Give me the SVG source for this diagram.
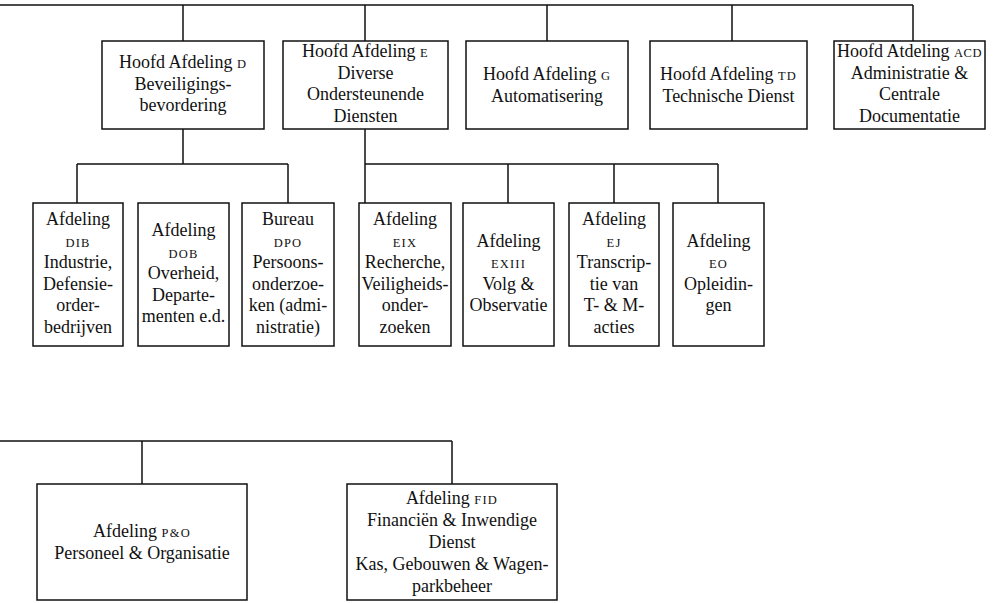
<svg xmlns="http://www.w3.org/2000/svg" width="1006" height="603" viewBox="0 0 1006 603">
<style>
.box{fill:#fff;stroke:#111;stroke-width:1.5}
.ln{fill:none;stroke:#111;stroke-width:1.5}
text{font-family:"Liberation Serif","Times New Roman",serif;font-size:18px;fill:#111;text-anchor:middle}
.sc{font-size:12.5px;letter-spacing:1.2px}
</style>
<rect width="1006" height="603" fill="#fff"/>
<g id="connectors">
<path class="ln" d="M0 5H913M183 5V41M365 5V41M547 5V41M732 5V41M913 5V41"/>
<path class="ln" d="M183 129V164M77 164H288M77 164V203M288 164V203"/>
<path class="ln" d="M365 129V203M365 164H718M508 164V203M614 164V203M718 164V203"/>
<path class="ln" d="M0 441H452M142 441V484M452 441V484"/>
</g>
<g id="hoofd-d">
<rect class="box" x="102" y="41" width="162" height="88"/>
<text x="183" y="68">Hoofd Afdeling <tspan class="sc">D</tspan></text>
<text x="183" y="90">Beveiligings-</text>
<text x="183" y="111">bevordering</text>
</g>
<g id="hoofd-e">
<rect class="box" x="283" y="41" width="165" height="88"/>
<text x="365.5" y="57">Hoofd Afdeling <tspan class="sc">E</tspan></text>
<text x="365.5" y="78.5">Diverse</text>
<text x="365.5" y="100">Ondersteunende</text>
<text x="365.5" y="121.5">Diensten</text>
</g>
<g id="hoofd-g">
<rect class="box" x="466" y="41" width="162" height="88"/>
<text x="547" y="80">Hoofd Afdeling <tspan class="sc">G</tspan></text>
<text x="547" y="101.5">Automatisering</text>
</g>
<g id="hoofd-td">
<rect class="box" x="650" y="41" width="157" height="88"/>
<text x="728.5" y="80">Hoofd Afdeling <tspan class="sc">TD</tspan></text>
<text x="728.5" y="101.5">Technische Dienst</text>
</g>
<g id="hoofd-acd">
<rect class="box" x="834" y="41" width="151" height="88"/>
<text x="909.5" y="57">Hoofd Atdeling <tspan class="sc" style="letter-spacing:0.6px">ACD</tspan></text>
<text x="909.5" y="78.5">Administratie &amp;</text>
<text x="909.5" y="100">Centrale</text>
<text x="909.5" y="121.5">Documentatie</text>
</g>
<g id="afd-dib">
<rect class="box" x="33" y="203" width="90" height="143"/>
<text x="78" y="225">Afdeling</text>
<text x="78" y="246.5" class="sc">DIB</text>
<text x="78" y="268">Industrie,</text>
<text x="78" y="289.5">Defensie-</text>
<text x="78" y="311">order-</text>
<text x="78" y="332.5">bedrijven</text>
</g>
<g id="afd-dob">
<rect class="box" x="138" y="203" width="91" height="143"/>
<text x="183.5" y="236">Afdeling</text>
<text x="183.5" y="257.5" class="sc">DOB</text>
<text x="183.5" y="279">Overheid,</text>
<text x="183.5" y="300.5">Departe-</text>
<text x="183.5" y="322">menten e.d.</text>
</g>
<g id="bureau-dpo">
<rect class="box" x="242" y="203" width="92" height="143"/>
<text x="288" y="225">Bureau</text>
<text x="288" y="246.5" class="sc">DPO</text>
<text x="288" y="268">Persoons-</text>
<text x="288" y="289.5">onderzoe-</text>
<text x="288" y="311">ken (admi-</text>
<text x="288" y="332.5">nistratie)</text>
</g>
<g id="afd-eix">
<rect class="box" x="359" y="203" width="92" height="143"/>
<text x="405" y="225">Afdeling</text>
<text x="405" y="246.5" class="sc">EIX</text>
<text x="405" y="268">Recherche,</text>
<text x="405" y="289.5">Veiligheids-</text>
<text x="405" y="311">onder-</text>
<text x="405" y="332.5">zoeken</text>
</g>
<g id="afd-exiii">
<rect class="box" x="463" y="203" width="91" height="143"/>
<text x="508.5" y="246.5">Afdeling</text>
<text x="508.5" y="268" class="sc">EXIII</text>
<text x="508.5" y="289.5">Volg &amp;</text>
<text x="508.5" y="311">Observatie</text>
</g>
<g id="afd-ej">
<rect class="box" x="569" y="203" width="90" height="143"/>
<text x="614" y="225">Afdeling</text>
<text x="614" y="246.5" class="sc">EJ</text>
<text x="614" y="268">Transcrip-</text>
<text x="614" y="289.5">tie van</text>
<text x="614" y="311">T- &amp; M-</text>
<text x="614" y="332.5">acties</text>
</g>
<g id="afd-eo">
<rect class="box" x="673" y="203" width="91" height="143"/>
<text x="718.5" y="246.5">Afdeling</text>
<text x="718.5" y="268" class="sc">EO</text>
<text x="718.5" y="289.5">Opleidin-</text>
<text x="718.5" y="311">gen</text>
</g>
<g id="afd-po">
<rect class="box" x="37" y="484" width="210" height="116"/>
<text x="142" y="537">Afdeling <tspan class="sc">P&amp;O</tspan></text>
<text x="142" y="559">Personeel &amp; Organisatie</text>
</g>
<g id="afd-fid">
<rect class="box" x="347" y="484" width="210" height="116"/>
<text x="452" y="504">Afdeling <tspan class="sc">FID</tspan></text>
<text x="452" y="526">Financiën &amp; Inwendige</text>
<text x="452" y="548">Dienst</text>
<text x="452" y="570">Kas, Gebouwen &amp; Wagen-</text>
<text x="452" y="592">parkbeheer</text>
</g>
</svg>
